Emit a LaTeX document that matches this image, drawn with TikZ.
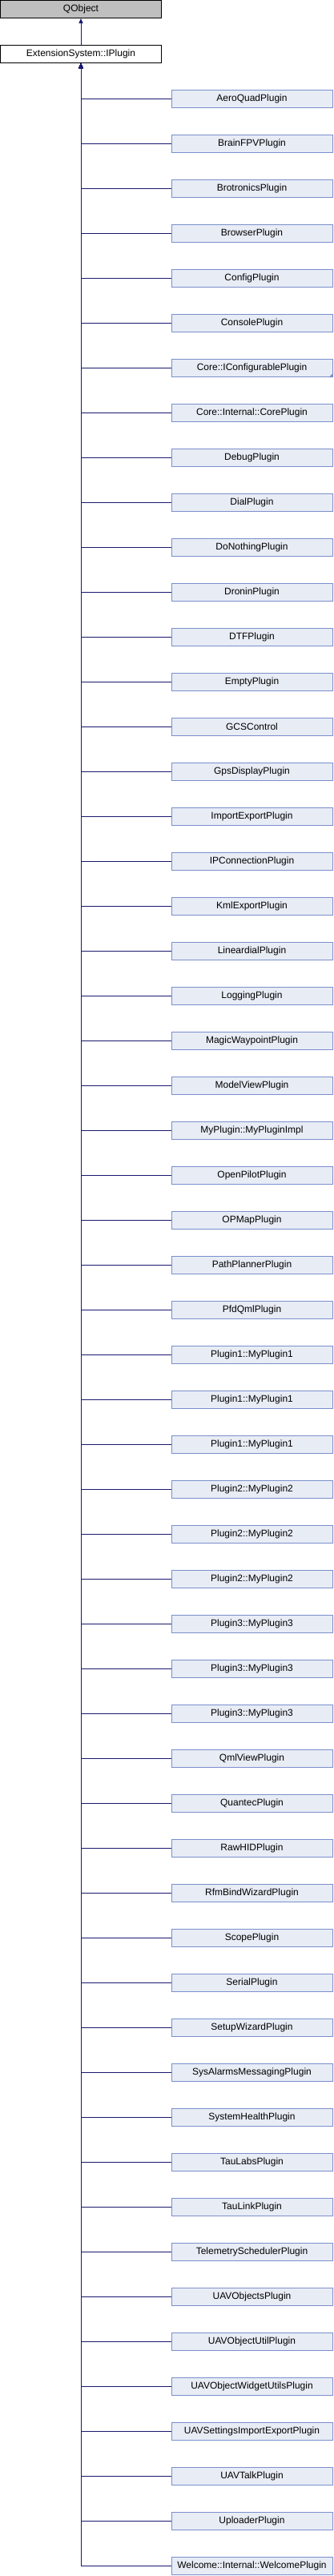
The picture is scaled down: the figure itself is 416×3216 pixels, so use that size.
\documentclass[tikz,border=0pt]{standalone}
\usepackage{fontspec}
\setmainfont{Liberation Sans}
\usetikzlibrary{trees,arrows.meta}

\definecolor{edgeblue}{RGB}{25,25,112}
\definecolor{boxfill}{RGB}{232,236,245}
\definecolor{boxborder}{RGB}{122,144,204}
\definecolor{basefill}{RGB}{191,191,191}

\tikzset{
  classbox/.style={draw=black, line width=1pt, minimum width=201pt, minimum height=22pt, inner sep=0pt, font=\fontsize{12}{12}\selectfont},
  basebox/.style={classbox, fill=basefill},
  rootbox/.style={classbox, fill=white},
  pluginbox/.style={classbox, draw=boxborder, fill=boxfill},
  inherit/.style={draw=edgeblue, line width=1pt},
}

\begin{document}
\begin{tikzpicture}[x=1pt,y=1pt, every child node/.style={pluginbox}, grow via three points={one child at (213.5,-56) and two children at (213.5,-56) and (213.5,-112)}, edge from parent/.style={inherit, {Triangle[length=6pt,width=5pt]}-}, edge from parent path={(\tikzparentnode.south) |- (\tikzchildnode.west)}]
\useasboundingbox (0,0) rectangle (416,-3216);
\node[basebox] (qobject) at (101,-11.5) {QObject};
\node[rootbox] (iplugin) at (101,-67.5) {ExtensionSystem::IPlugin}
    child { node (aeroquad) {AeroQuadPlugin} }
    child { node (brainfpv) {BrainFPVPlugin} }
    child { node (brotronics) {BrotronicsPlugin} }
    child { node (browser) {BrowserPlugin} }
    child { node (config) {ConfigPlugin} }
    child { node (console) {ConsolePlugin} }
    child { node (iconfig) {Core::IConfigurablePlugin} }
    child { node (coreplugin) {Core::Internal::CorePlugin} }
    child { node (debug) {DebugPlugin} }
    child { node (dial) {DialPlugin} }
    child { node (donothing) {DoNothingPlugin} }
    child { node (dronin) {DroninPlugin} }
    child { node (dtf) {DTFPlugin} }
    child { node (empty) {EmptyPlugin} }
    child { node (gcscontrol) {GCSControl} }
    child { node (gpsdisplay) {GpsDisplayPlugin} }
    child { node (importexport) {ImportExportPlugin} }
    child { node (ipconnection) {IPConnectionPlugin} }
    child { node (kmlexport) {KmlExportPlugin} }
    child { node (lineardial) {LineardialPlugin} }
    child { node (logging) {LoggingPlugin} }
    child { node (magicwaypoint) {MagicWaypointPlugin} }
    child { node (modelview) {ModelViewPlugin} }
    child { node (mypluginimpl) {MyPlugin::MyPluginImpl} }
    child { node (openpilot) {OpenPilotPlugin} }
    child { node (opmap) {OPMapPlugin} }
    child { node (pathplanner) {PathPlannerPlugin} }
    child { node (pfdqml) {PfdQmlPlugin} }
    child { node (plugina) {Plugin1::MyPlugin1} }
    child { node (pluginb) {Plugin1::MyPlugin1} }
    child { node (pluginc) {Plugin1::MyPlugin1} }
    child { node (pluginba) {Plugin2::MyPlugin2} }
    child { node (pluginbb) {Plugin2::MyPlugin2} }
    child { node (pluginbc) {Plugin2::MyPlugin2} }
    child { node (pluginca) {Plugin3::MyPlugin3} }
    child { node (plugincb) {Plugin3::MyPlugin3} }
    child { node (plugincc) {Plugin3::MyPlugin3} }
    child { node (qmlview) {QmlViewPlugin} }
    child { node (quantec) {QuantecPlugin} }
    child { node (rawhid) {RawHIDPlugin} }
    child { node (rfmbind) {RfmBindWizardPlugin} }
    child { node (scope) {ScopePlugin} }
    child { node (serial) {SerialPlugin} }
    child { node (setupwizard) {SetupWizardPlugin} }
    child { node (sysalarms) {SysAlarmsMessagingPlugin} }
    child { node (systemhealth) {SystemHealthPlugin} }
    child { node (taulabs) {TauLabsPlugin} }
    child { node (taulink) {TauLinkPlugin} }
    child { node (telemetrysched) {TelemetrySchedulerPlugin} }
    child { node (uavobjects) {UAVObjectsPlugin} }
    child { node (uavobjectutil) {UAVObjectUtilPlugin} }
    child { node (uavwidgetutils) {UAVObjectWidgetUtilsPlugin} }
    child { node (uavsettings) {UAVSettingsImportExportPlugin} }
    child { node (uavtalk) {UAVTalkPlugin} }
    child { node (uploader) {UploaderPlugin} }
    child { node (welcome) {Welcome::Internal::WelcomePlugin} }
;
\draw[inherit, -{Triangle[length=6pt,width=5pt]}] (iplugin) -- (qobject);
% corner mark of a truncated class
\fill[boxborder] (iconfig.south east) -- ++(-5,0) -- ++(5,5) -- cycle;
\end{tikzpicture}
\end{document}
